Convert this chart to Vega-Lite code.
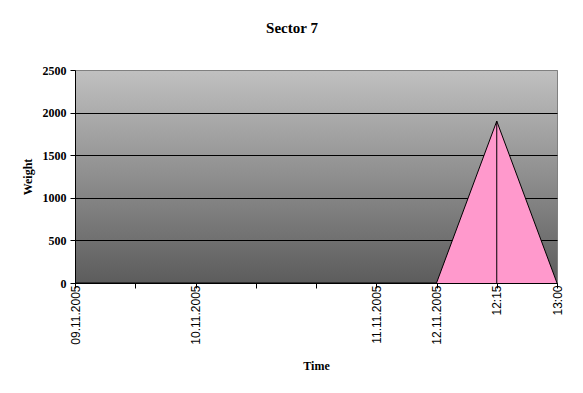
{
  "$schema": "https://vega.github.io/schema/vega-lite/v6.json",
  "width": 482,
  "height": 213,
  "autosize": {"type": "none"},
  "padding": {"left": 75, "top": 70, "right": 26, "bottom": 110},
  "background": "white",
  "title": {
    "text": "Sector 7",
    "font": "Liberation Serif",
    "fontSize": 15,
    "fontWeight": "bold",
    "color": "black",
    "anchor": "middle",
    "frame": "bounds",
    "offset": 28
  },
  "config": {
    "view": {
      "stroke": "#808080",
      "strokeWidth": 1,
      "fill": {
        "gradient": "linear",
        "x1": 0, "y1": 0, "x2": 0, "y2": 1,
        "stops": [
          {"offset": 0, "color": "#c0c0c0"},
          {"offset": 1, "color": "#5c5c5c"}
        ]
      }
    }
  },
  "data": {
    "values": [
      {"t": "09.11.2005", "w": 0},
      {"t": " ", "w": 0},
      {"t": "10.11.2005", "w": 0},
      {"t": "  ", "w": 0},
      {"t": "   ", "w": 0},
      {"t": "11.11.2005", "w": 0},
      {"t": "12.11.2005", "w": 0},
      {"t": "12:15", "w": 1900},
      {"t": "13:00", "w": 0}
    ]
  },
  "encoding": {
    "x": {
      "field": "t",
      "type": "ordinal",
      "sort": null,
      "scale": {"type": "point", "padding": 0},
      "axis": {
        "title": "Time",
        "titleFont": "Liberation Serif",
        "titleFontSize": 12,
        "titleFontWeight": "bold",
        "titleColor": "black",
        "titlePadding": 16,
        "labelAngle": 270,
        "labelAlign": "right",
        "labelBaseline": "middle",
        "labelFont": "Liberation Sans",
        "labelFontSize": 12,
        "labelColor": "black",
        "labelPadding": -3,
        "labelOverlap": false,
        "tickSize": 5,
        "tickColor": "black",
        "domainColor": "black",
        "grid": false
      }
    },
    "y": {
      "field": "w",
      "type": "quantitative",
      "scale": {"domain": [0, 2500], "nice": false},
      "axis": {
        "title": "Weight",
        "titleFont": "Liberation Serif",
        "titleFontSize": 12,
        "titleFontWeight": "bold",
        "titleColor": "black",
        "titlePadding": 8,
        "values": [0, 500, 1000, 1500, 2000, 2500],
        "format": "d",
        "labelFont": "Liberation Serif",
        "labelFontSize": 12,
        "labelFontWeight": "bold",
        "labelColor": "black",
        "labelPadding": 4,
        "tickSize": 5,
        "tickColor": "black",
        "domainColor": "black",
        "grid": true,
        "gridColor": {"condition": {"test": "datum.value == 2500", "value": "#808080"}, "value": "black"},
        "gridOpacity": 1,
        "gridWidth": 1
      }
    }
  },
  "layer": [
    {
      "mark": {"type": "area", "color": "#ff99cc", "opacity": 1, "line": {"color": "black", "strokeWidth": 1}}
    },
    {
      "transform": [{"filter": "datum.w > 0"}],
      "mark": {"type": "rule", "color": "black", "strokeWidth": 1},
      "encoding": {"y2": {"datum": 0}}
    }
  ]
}
